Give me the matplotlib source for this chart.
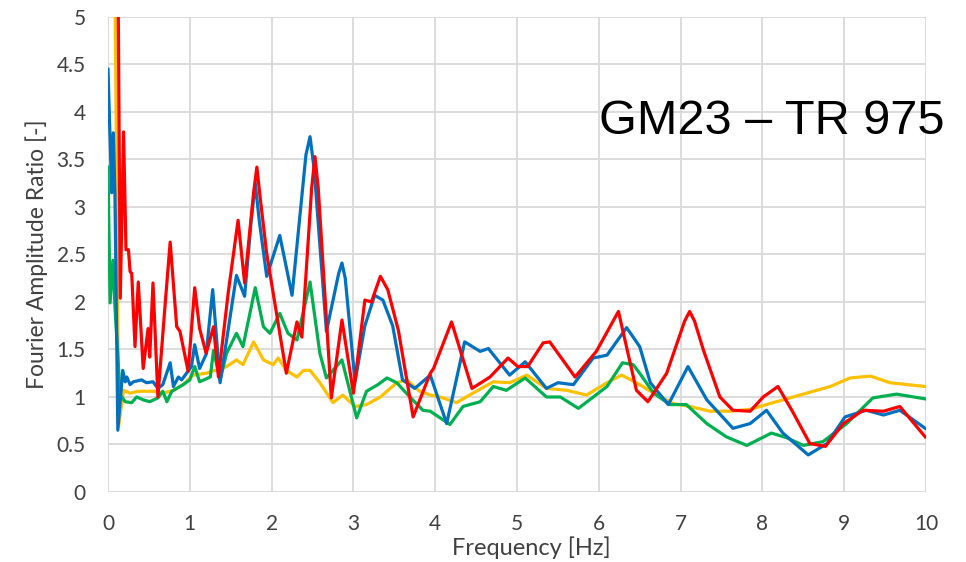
import numpy as np
import matplotlib.pyplot as plt

# ---------------- datos ----------------
blue_f = [0.0, 0.045, 0.065, 0.085, 0.12, 0.18, 0.21, 0.23, 0.27, 0.31, 0.41, 0.47, 0.55, 0.61, 0.67,
          0.76, 0.80, 0.86, 0.90, 0.96, 1.02, 1.06, 1.12, 1.20, 1.28, 1.37, 1.45, 1.57, 1.67, 1.75,
          1.80, 1.85, 1.94, 2.10, 2.25, 2.42, 2.47, 2.52, 2.67, 2.82, 2.86, 2.90, 3.02, 3.14, 3.26,
          3.36, 3.48, 3.60, 3.75, 3.94, 4.14, 4.36, 4.55, 4.65, 4.91, 5.10, 5.36, 5.50, 5.69, 5.93,
          6.10, 6.34, 6.50, 6.63, 6.85, 7.09, 7.32, 7.64, 7.85, 8.05, 8.25, 8.56, 8.79, 9.01, 9.27,
          9.48, 9.68, 9.99]
blue_a = [4.45, 3.15, 3.78, 3.13, 0.65, 1.28, 1.16, 1.21, 1.13, 1.16, 1.18, 1.15, 1.16, 1.09, 1.13,
          1.36, 1.11, 1.21, 1.18, 1.25, 1.32, 1.55, 1.30, 1.45, 2.13, 1.15, 1.60, 2.28, 2.06, 2.85,
          3.25, 2.85, 2.27, 2.70, 2.07, 3.55, 3.74, 3.40, 1.69, 2.30, 2.41, 2.25, 1.16, 1.75, 2.07,
          2.02, 1.75, 1.18, 1.09, 1.23, 0.72, 1.58, 1.48, 1.51, 1.23, 1.37, 1.09, 1.15, 1.13, 1.41,
          1.44, 1.73, 1.53, 1.15, 0.92, 1.32, 0.97, 0.67, 0.72, 0.86, 0.62, 0.39, 0.51, 0.79, 0.86,
          0.81, 0.86, 0.67]

red_f = [0.11, 0.15, 0.19, 0.22, 0.25, 0.27, 0.29, 0.33, 0.37, 0.43, 0.49, 0.51, 0.55, 0.61, 0.70,
         0.76, 0.84, 0.88, 0.98, 1.06, 1.12, 1.20, 1.29, 1.35, 1.47, 1.59, 1.67, 1.78, 1.82, 1.86,
         1.94, 2.18, 2.31, 2.37, 2.49, 2.53, 2.57, 2.73, 2.86, 3.00, 3.14, 3.22, 3.33, 3.42, 3.55,
         3.73, 3.94, 3.98, 4.20, 4.45, 4.67, 4.89, 5.01, 5.13, 5.32, 5.40, 5.71, 5.97, 6.24, 6.46,
         6.60, 6.83, 7.05, 7.11, 7.17, 7.28, 7.48, 7.64, 7.85, 8.01, 8.19, 8.36, 8.58, 8.77, 8.99,
         9.23, 9.48, 9.68, 9.99]
red_a = [7.0, 2.04, 3.79, 2.55, 2.55, 2.32, 2.30, 1.53, 2.21, 1.30, 1.72, 1.42, 2.20, 1.00, 1.99,
         2.63, 1.74, 1.69, 1.27, 2.15, 1.72, 1.46, 1.74, 1.21, 2.10, 2.86, 2.20, 3.15, 3.42, 3.10,
         2.51, 1.25, 1.79, 1.63, 3.20, 3.53, 3.20, 0.99, 1.81, 1.04, 2.02, 2.00, 2.27, 2.13, 1.70,
         0.79, 1.25, 1.30, 1.79, 1.09, 1.21, 1.41, 1.32, 1.32, 1.57, 1.58, 1.21, 1.48, 1.90, 1.07,
         0.95, 1.25, 1.80, 1.90, 1.80, 1.49, 1.00, 0.86, 0.85, 1.00, 1.11, 0.86, 0.51, 0.48, 0.72,
         0.86, 0.85, 0.90, 0.58]

green_f = [0.0, 0.025, 0.06, 0.085, 0.15, 0.17, 0.21, 0.29, 0.35, 0.43, 0.51, 0.61, 0.67, 0.72, 0.78,
           0.92, 1.00, 1.06, 1.12, 1.25, 1.29, 1.37, 1.45, 1.57, 1.65, 1.80, 1.90, 1.98, 2.10, 2.20,
           2.31, 2.47, 2.59, 2.67, 2.86, 3.04, 3.16, 3.30, 3.41, 3.53, 3.69, 3.85, 3.94, 4.18, 4.34,
           4.55, 4.71, 4.87, 5.10, 5.36, 5.53, 5.75, 6.10, 6.29, 6.42, 6.50, 6.67, 6.87, 7.07, 7.32,
           7.56, 7.81, 8.11, 8.30, 8.50, 8.74, 9.03, 9.35, 9.64, 9.99]
green_a = [3.42, 1.99, 2.44, 1.95, 1.00, 1.00, 0.95, 0.94, 1.00, 0.97, 0.95, 0.99, 1.06, 0.95, 1.06,
           1.13, 1.18, 1.32, 1.16, 1.21, 1.49, 1.18, 1.46, 1.67, 1.53, 2.15, 1.74, 1.67, 1.88, 1.67,
           1.60, 2.21, 1.46, 1.20, 1.39, 0.78, 1.06, 1.13, 1.20, 1.15, 1.00, 0.86, 0.85, 0.71, 0.90,
           0.95, 1.11, 1.07, 1.20, 1.00, 1.00, 0.88, 1.11, 1.36, 1.34, 1.25, 1.04, 0.92, 0.92, 0.72,
           0.58, 0.49, 0.62, 0.57, 0.49, 0.53, 0.72, 0.99, 1.03, 0.98]

yellow_f = [0.07, 0.13, 0.19, 0.27, 0.37, 0.55, 0.67, 0.80, 0.92, 1.04, 1.20, 1.45, 1.57, 1.65, 1.78,
            1.90, 2.02, 2.08, 2.18, 2.31, 2.39, 2.47, 2.59, 2.75, 2.87, 3.02, 3.16, 3.33, 3.53, 3.65,
            3.81, 3.94, 4.06, 4.26, 4.46, 4.71, 4.91, 5.12, 5.36, 5.61, 5.85, 6.10, 6.28, 6.50, 6.67,
            6.91, 7.11, 7.36, 7.60, 7.85, 8.13, 8.54, 8.83, 9.07, 9.32, 9.56, 9.99]
yellow_a = [7.0, 0.69, 1.07, 1.04, 1.06, 1.06, 1.04, 1.07, 1.13, 1.23, 1.25, 1.32, 1.39, 1.34, 1.58,
            1.39, 1.34, 1.41, 1.28, 1.21, 1.28, 1.28, 1.15, 0.94, 1.02, 0.90, 0.92, 1.00, 1.15, 1.18,
            1.06, 1.02, 1.00, 0.94, 1.04, 1.16, 1.15, 1.23, 1.09, 1.07, 1.02, 1.15, 1.23, 1.13, 1.04,
            0.93, 0.90, 0.85, 0.85, 0.87, 0.94, 1.04, 1.11, 1.20, 1.22, 1.15, 1.11]

x_ticks = list(range(0, 11))
y_ticks = [0, 0.5, 1, 1.5, 2, 2.5, 3, 3.5, 4, 4.5, 5]
y_labels = ['0', '0.5', '1', '1.5', '2', '2.5', '3', '3.5', '4', '4.5', '5']

# ---------------- figura ----------------
plt.rcParams['font.family'] = ['Lato', 'DejaVu Sans']

fig = plt.figure(figsize=(9.66, 5.62), dpi=100)
ax = fig.add_axes([0.1118, 0.1246, 0.8468, 0.8452])

lw = 2.3
ax.plot(yellow_f, yellow_a, color='#FFC000', lw=lw, solid_joinstyle='round')
ax.plot(green_f, green_a, color='#00B050', lw=lw, solid_joinstyle='round')
ax.plot(blue_f, blue_a, color='#0070C0', lw=lw, solid_joinstyle='round')
ax.plot(red_f, red_a, color='#FF0000', lw=lw, solid_joinstyle='round')

ax.set_xlim(0, 10)
ax.set_ylim(0, 5)
ax.set_xticks(x_ticks)
ax.set_yticks(y_ticks)
ax.set_yticklabels(y_labels)
ax.grid(True, color='#d9d9d9', lw=1.3)
ax.set_axisbelow(True)
for s in ax.spines.values():
    s.set_visible(False)
ax.tick_params(length=0, labelsize=15, labelcolor='#404040')
ax.tick_params(axis='x', pad=16)
ax.tick_params(axis='y', pad=16)

ax.set_xlabel('Frequency [Hz]', fontsize=17, color='#404040')
ax.xaxis.set_label_coords(0.518, -0.093)
ax.set_ylabel('Fourier Amplitude Ratio [-]', fontsize=16.5, color='#404040')
ax.yaxis.set_label_coords(-0.073, 0.5)

ax.text(1.023, 0.779, 'GM23 – TR 975', transform=ax.transAxes, fontsize=35,
        family='Liberation Sans', ha='right', va='center', color='black')

fig.savefig('out.png', dpi=100)
